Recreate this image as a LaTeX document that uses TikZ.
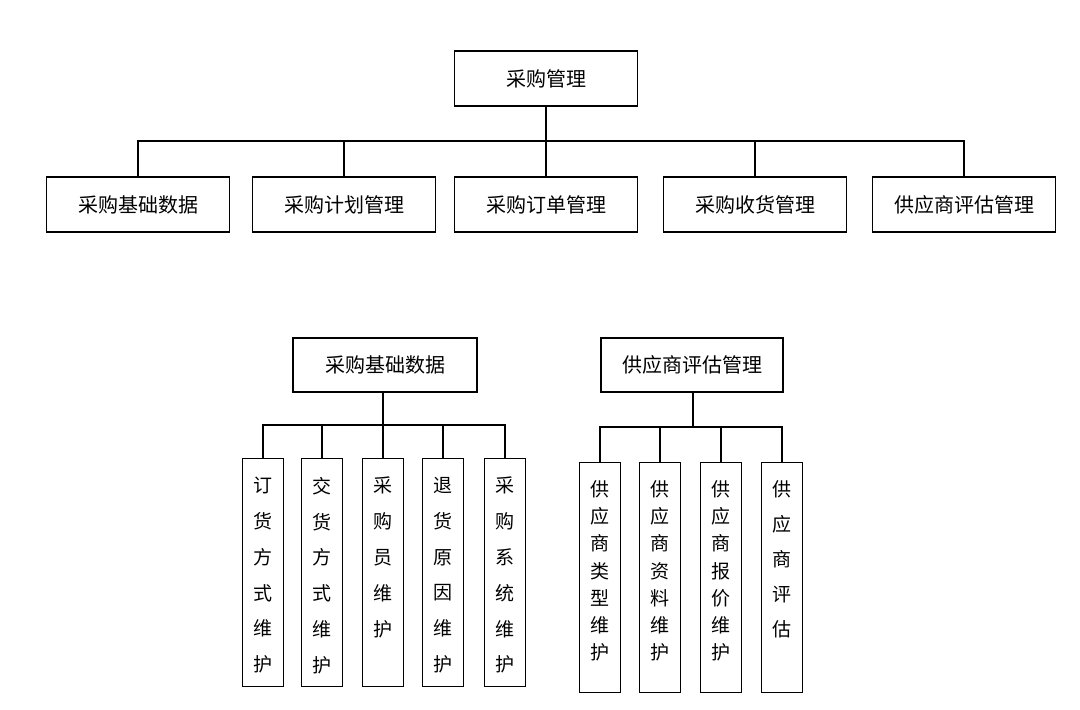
\documentclass[tikz,border=0pt]{standalone}
\usepackage{fontspec}
\newfontfamily\cjk{Noto Sans CJK SC}
\usetikzlibrary{calc}
\begin{document}
\begin{tikzpicture}[x=1pt,y=-1pt,
  box/.style={draw, line width=1.4pt, inner sep=0pt, font=\cjk\fontsize{20}{22}\selectfont},
  hbox/.style={box, minimum width=183pt, minimum height=55pt},
  vbox/.style={draw, line width=1.4pt, inner sep=0pt, minimum width=41pt},
  vtext/.style={anchor=north, inner sep=0pt, align=center},
  conn/.style={line width=1.4pt}]
\useasboundingbox (0,0) rectangle (1080,710);
% top level
\node[hbox] (top) at (546,78.5) {采购管理};
\node[hbox] (b1) at (138,204.5) {采购基础数据};
\node[hbox] (b2) at (344,204.5) {采购计划管理};
\node[hbox] (b3) at (546,204.5) {采购订单管理};
\node[hbox] (b4) at (755,204.5) {采购收货管理};
\node[hbox] (b5) at (964,204.5) {供应商评估管理};
\coordinate (bus) at (546,141);
\draw[conn] (top.south) -- (bus);
\draw[conn] (b1.north) |- (b5.north |- bus) -- (b5.north);
\foreach \n in {b2,b3,b4} \draw[conn] (\n.north) -- (\n.north |- bus);
% group 1
\node[hbox, minimum width=184pt, minimum height=54pt] (p1) at (385,365) {采购基础数据};
\coordinate (bus1) at (383,425);
\draw[conn] (p1.south -| bus1) -- (bus1);
\foreach \n/\x/\t in {c1/263/{订\\货\\方\\式\\维\\护},c2/322/{交\\货\\方\\式\\维\\护},c3/383/{采\\购\\员\\维\\护},c4/443/{退\\货\\原\\因\\维\\护},c5/505/{采\\购\\系\\统\\维\\护}}{
  \node[vbox, minimum height=228pt, anchor=north] (\n) at (\x,458) {};
  \node[vtext, font=\cjk\fontsize{19}{35.8}\selectfont] (\n t) at ($(\n.north)+(0,19)$) {\t};
}
\draw[conn] (c1.north) |- (c5.north |- bus1) -- (c5.north);
\foreach \n in {c2,c3,c4} \draw[conn] (\n.north) -- (\n.north |- bus1);
% group 2
\node[hbox, minimum width=182pt, minimum height=54pt] (p2) at (692,365) {供应商评估管理};
\coordinate (bus2) at (693,427);
\draw[conn] (p2.south -| bus2) -- (bus2);
\foreach \n/\x/\s/\t in {d1/600/27.3/{供\\应\\商\\类\\型\\维\\护},d2/660/27.3/{供\\应\\商\\资\\料\\维\\护},d3/721/27.3/{供\\应\\商\\报\\价\\维\\护},d4/782/35/{供\\应\\商\\评\\估}}{
  \node[vbox, minimum height=230pt, anchor=north] (\n) at (\x,462) {};
  \node[vtext, font=\cjk\fontsize{19}{\s}\selectfont] (\n t) at ($(\n.north)+(0,18)$) {\t};
}
\draw[conn] (d1.north) |- (d4.north |- bus2) -- (d4.north);
\foreach \n in {d2,d3} \draw[conn] (\n.north) -- (\n.north |- bus2);
\end{tikzpicture}
\end{document}
